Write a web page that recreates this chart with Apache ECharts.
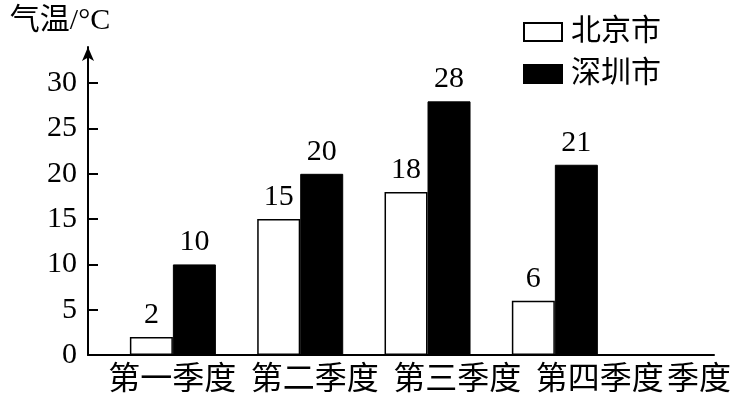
<!DOCTYPE html>
<html>
<head>
<meta charset="utf-8">
<script src="https://cdn.jsdelivr.net/npm/echarts@6/dist/echarts.min.js"></script>
<style>html,body{margin:0;padding:0;background:#fff;}#c{width:734px;height:405px;}</style>
</head>
<body>
<div id="c"></div>
<script>
const categories = ['第一季度', '第二季度', '第三季度', '第四季度'];
const beijing = [2, 15, 18, 6];
const shenzhen = [10, 20, 28, 21];
const yTicks = [0, 5, 10, 15, 20, 25, 30];
const seriesNames = ['北京市', '深圳市'];

const FF = "'Liberation Serif','Noto Sans CJK SC'";
const chart = echarts.init(document.getElementById('c'));
const labelCfg = {
  show: true, position: 'top', distance: 7, fontSize: 30, color: '#000', fontFamily: FF,
  formatter: p => p.value[1]
};
chart.setOption({
  animation: false,
  backgroundColor: '#fff',
  textStyle: { fontFamily: FF, color: '#000' },
  legend: {
    orient: 'vertical', left: 518, top: 12, itemWidth: 38, itemHeight: 18, itemGap: 12,
    icon: 'rect', data: seriesNames,
    textStyle: { fontSize: 30, color: '#000', fontFamily: FF, padding: [0, 0, 0, 4] }
  },
  grid: [
    { left: 88, right: 19, top: 47, bottom: 50 },
    { left: 101, width: 570, top: 300, bottom: 50 }
  ],
  xAxis: [
    {
      type: 'value', gridIndex: 0, min: 1 / 3, max: 5.25,
      axisLine: { show: true, onZero: false, lineStyle: { color: '#000', width: 2 } },
      axisTick: { show: false }, axisLabel: { show: false }, splitLine: { show: false },
      name: '季度', nameLocation: 'end', nameGap: -47,
      nameTextStyle: { fontSize: 32, color: '#000', fontFamily: FF, verticalAlign: 'top', padding: [10, 0, 0, 0] }
    },
    {
      type: 'category', gridIndex: 1, data: categories,
      axisLine: { show: false }, axisTick: { show: false }, splitLine: { show: false },
      axisLabel: { interval: 0, margin: 10, fontSize: 32, color: '#000', fontFamily: FF }
    }
  ],
  yAxis: [
    {
      type: 'value', gridIndex: 0, min: 0, max: 34,
      axisLine: { show: true, symbol: ['none', 'arrow'], symbolSize: [9, 14], lineStyle: { color: '#000', width: 2 } },
      axisTick: { show: true, inside: true, length: 10, customValues: yTicks, lineStyle: { color: '#000', width: 2 } },
      axisLabel: { customValues: yTicks, fontSize: 30, margin: 11, color: '#000', fontFamily: FF },
      splitLine: { show: false },
      name: '气温/°C', nameLocation: 'end', nameGap: 11,
      nameTextStyle: { fontSize: 30, color: '#000', fontFamily: FF, padding: [0, 56, 0, 0] }
    },
    { type: 'value', gridIndex: 1, show: false }
  ],
  series: [
    {
      type: 'bar', name: seriesNames[0], xAxisIndex: 0, yAxisIndex: 0,
      data: beijing.map((v, i) => [i + 1, v]),
      barWidth: 43, barGap: '0%',
      itemStyle: { color: '#fff', borderColor: '#000', borderWidth: 1.5 },
      label: labelCfg, emphasis: { disabled: true }
    },
    {
      type: 'bar', name: seriesNames[1], xAxisIndex: 0, yAxisIndex: 0,
      data: shenzhen.map((v, i) => [i + 1, v]),
      barWidth: 43, barGap: '0%',
      itemStyle: { color: '#000', borderColor: '#000', borderWidth: 1 },
      label: labelCfg, emphasis: { disabled: true }
    }
  ]
});
</script>
</body>
</html>
